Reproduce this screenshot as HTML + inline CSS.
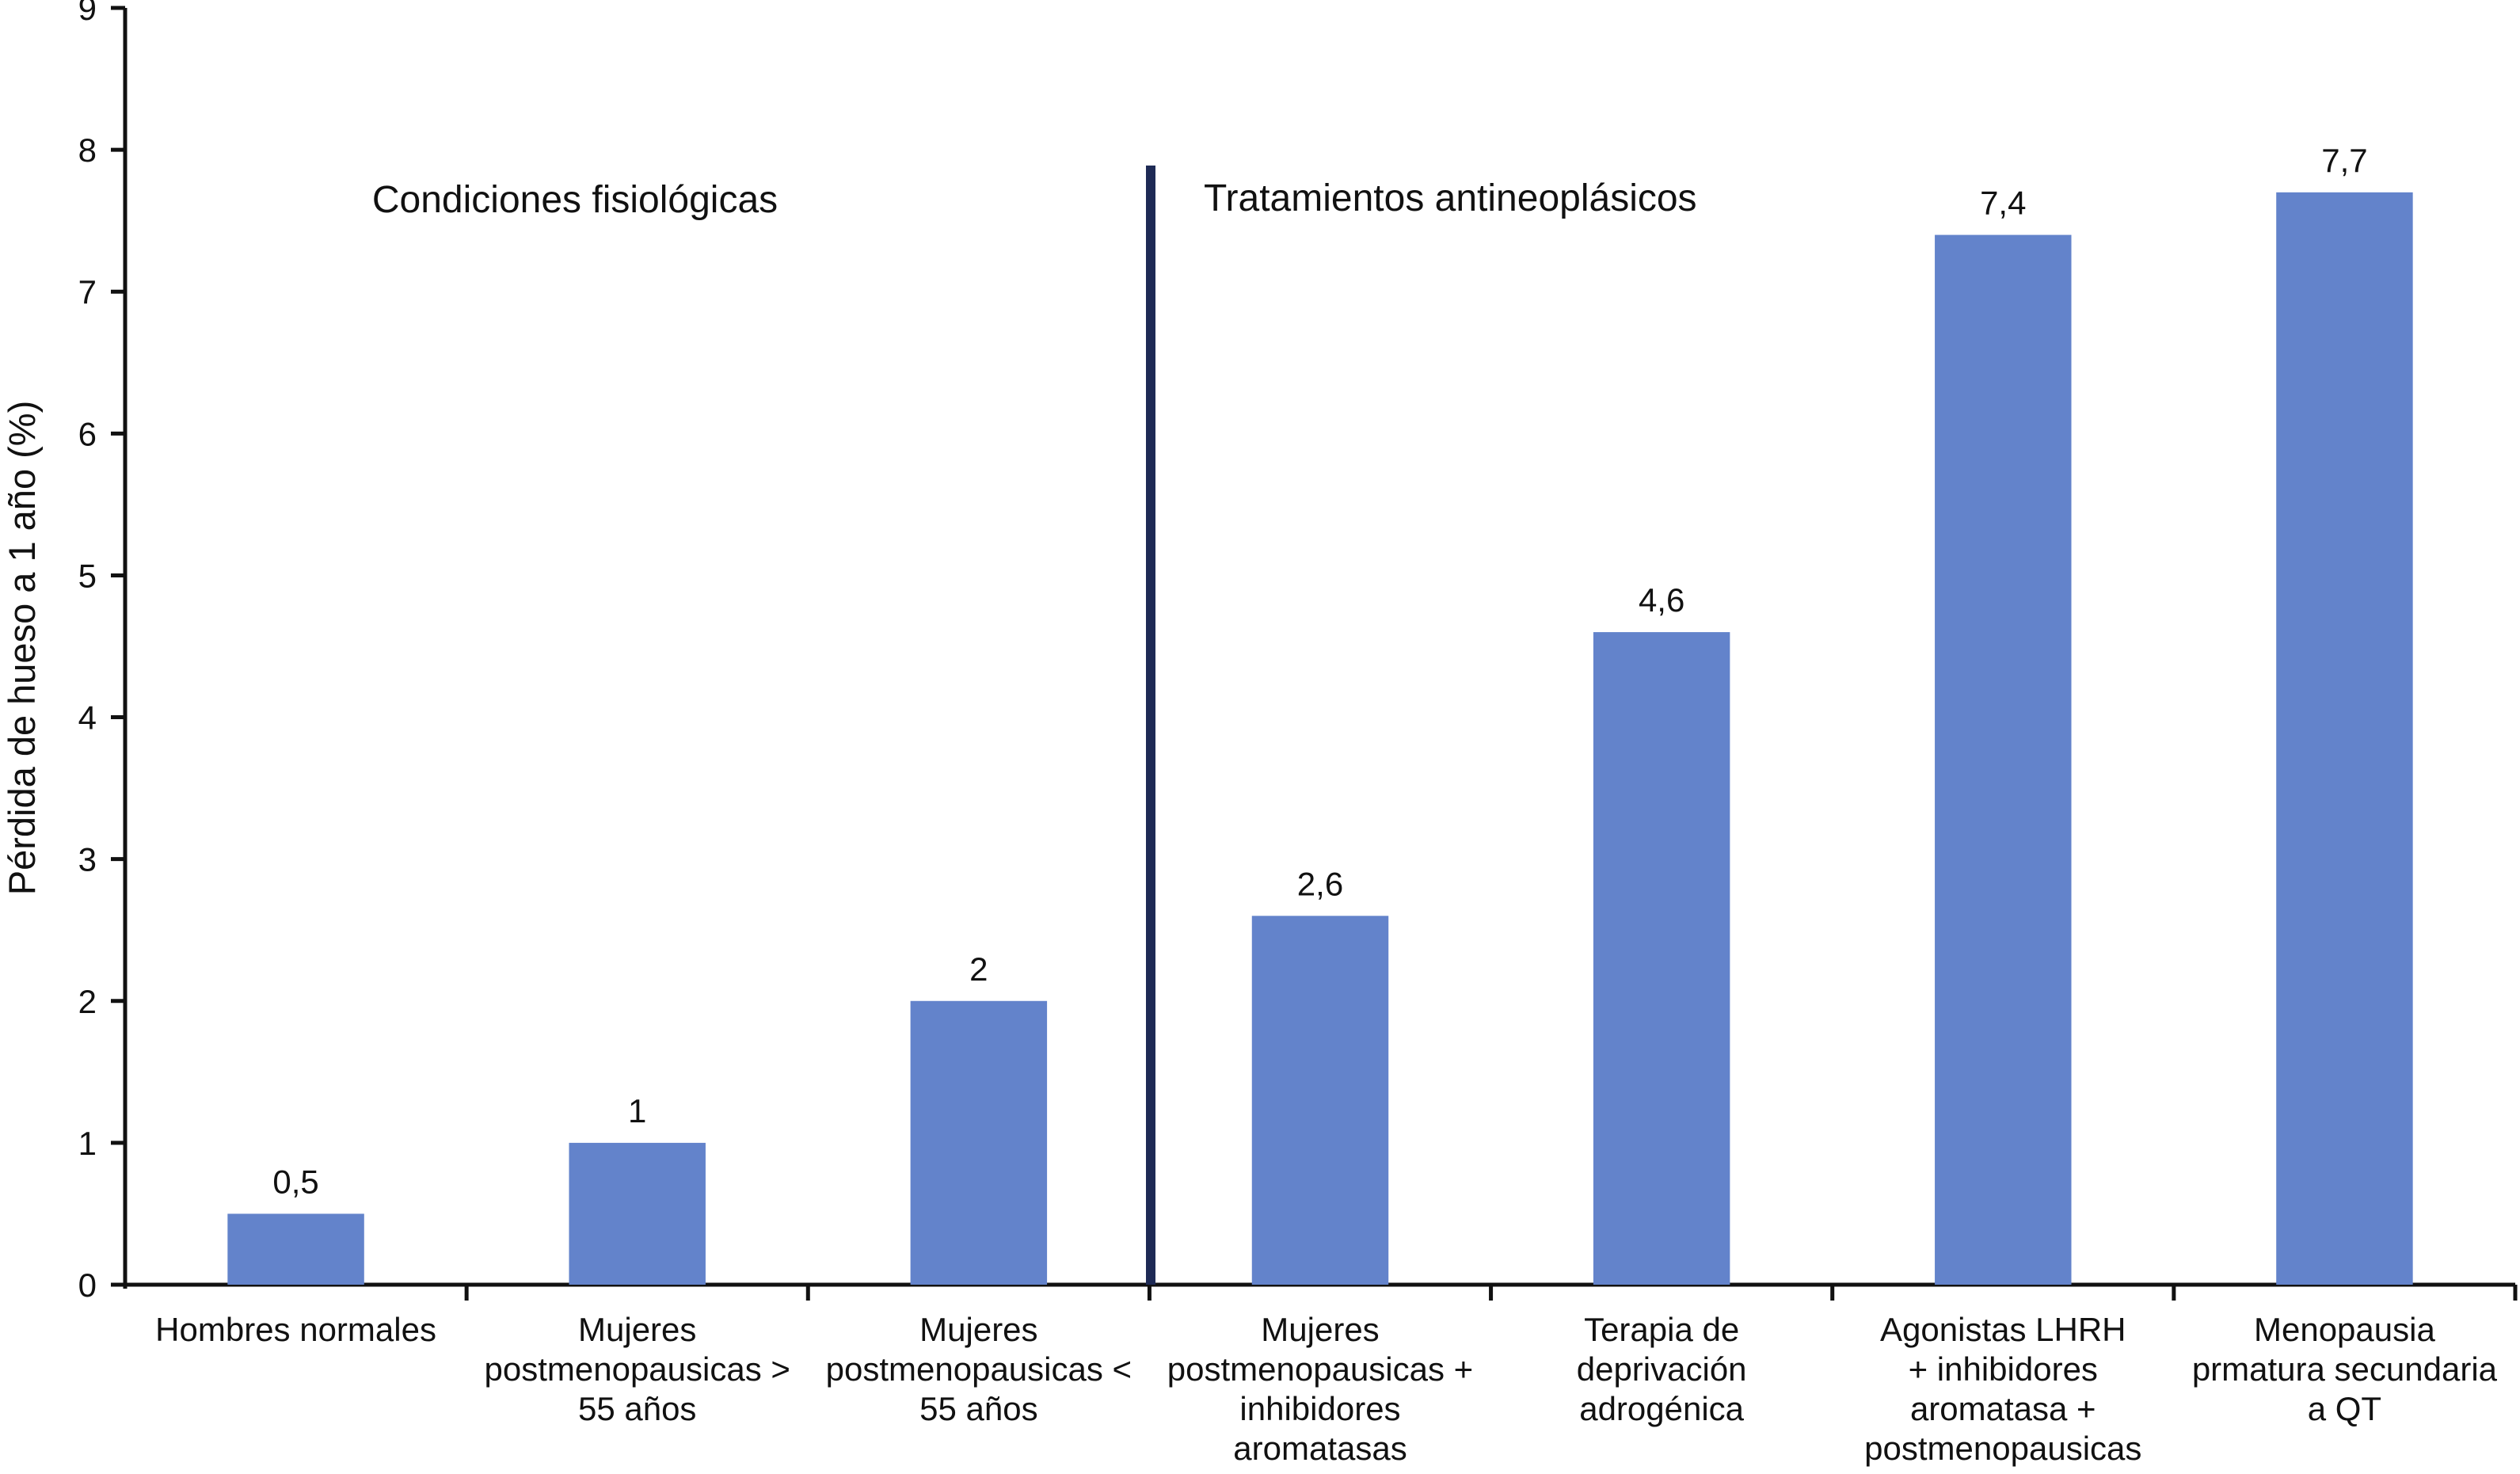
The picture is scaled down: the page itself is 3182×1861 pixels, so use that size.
<!DOCTYPE html>
<html><head><meta charset="utf-8"><style>
html,body{margin:0;padding:0;background:#fff}
svg{display:block}
text{font-family:"Liberation Sans",sans-serif;fill:#111}
</style></head><body>
<svg id="chart" width="3182" height="1861" viewBox="0 0 3182 1861" xmlns="http://www.w3.org/2000/svg">
<g id="axes"></g><g id="bars"></g><g id="labels"></g>
<line x1="1453" y1="209" x2="1453" y2="1622" stroke="#1e2a55" stroke-width="12"/>
<text x="726" y="268" font-size="48" text-anchor="middle">Condiciones fisiológicas</text>
<text x="1520" y="266" font-size="48">Tratamientos antineoplásicos</text>
<text x="0" y="0" font-size="47" text-anchor="middle" transform="translate(44,818) rotate(-90)">Pérdida de hueso a 1 año (%)</text>
</svg>
<script>
const categories=[["Hombres normales"],["Mujeres","postmenopausicas >","55 años"],["Mujeres","postmenopausicas <","55 años"],["Mujeres","postmenopausicas +","inhibidores","aromatasas"],["Terapia de","deprivación","adrogénica"],["Agonistas LHRH","+ inhibidores","aromatasa +","postmenopausicas"],["Menopausia","prmatura secundaria","a QT"]];
const values=[0.5,1,2,2.6,4.6,7.4,7.7];
const valueLabels=["0,5","1","2","2,6","4,6","7,4","7,7"];
const yTicks=[0,1,2,3,4,5,6,7,8,9];
const NS="http://www.w3.org/2000/svg";
const X0=158,X1=3176,Y0=1622,YT=10,YMAX=9;
const cw=(X1-X0)/categories.length;
function y(v){return Y0-(Y0-YT)*v/YMAX;}
function xc(i){return X0+cw*(i+0.5);}
function mk(tag,attrs,parent,txt){const e=document.createElementNS(NS,tag);for(const k in attrs)e.setAttribute(k,attrs[k]);if(txt!==undefined)e.textContent=txt;document.getElementById(parent).appendChild(e);return e;}
let e;
e=mk('line',{x1:X0,y1:YT,x2:X0,y2:Y0+5,stroke:'#111','stroke-width':5},'axes');


e=mk('line',{x1:X0-18,y1:Y0,x2:X1,y2:Y0,stroke:'#111','stroke-width':5},'axes');


yTicks.forEach(t=>{
  e=mk('line',{x1:X0-18,y1:y(t),x2:X0,y2:y(t),stroke:'#111','stroke-width':5},'axes');
  
  
  e=mk('text',{x:X0-36,y:y(t)+15,'font-size':42,'text-anchor':'end'},'axes',String(t));
  
  
});
for(let i=1;i<=categories.length;i++){
  e=mk('line',{x1:X0+cw*i,y1:Y0,x2:X0+cw*i,y2:Y0+20,stroke:'#111','stroke-width':5},'axes');
  
  
}
const bw=cw*0.4;
values.forEach((v,i)=>{
  e=mk('rect',{x:xc(i)-bw/2,y:y(v),width:bw,height:Y0-y(v),fill:'#6383cb'},'bars');
  
  
  e=mk('text',{x:xc(i),y:y(v)-26,'font-size':42,'text-anchor':'middle'},'labels',valueLabels[i]);
  
  
});
categories.forEach((lines,i)=>{
  lines.forEach((l,j)=>{
    e=mk('text',{x:xc(i),y:1693+j*50,'font-size':42,'text-anchor':'middle'},'labels',l);
    
    
  });
});
</script>
</body></html>
